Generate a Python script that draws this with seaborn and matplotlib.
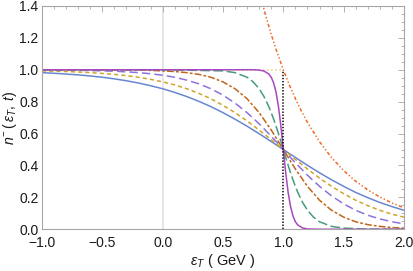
"""
Fermi-Dirac occupation n^-(eps_T, t) for several temperatures
"""

import matplotlib

matplotlib.use("Agg")
import matplotlib.pyplot as plt
import pandas as pd
import seaborn as sns
from matplotlib.ticker import FixedLocator, MultipleLocator


# broad curves, read on a 0.1 GeV grid
x_broad = [-1.0, -0.9, -0.8, -0.7, -0.6, -0.5, -0.4, -0.3, -0.2, -0.1,
           0.0, 0.1, 0.2, 0.3, 0.4, 0.5, 0.6, 0.7, 0.8, 0.9,
           1.0, 1.1, 1.2, 1.3, 1.4, 1.5, 1.6, 1.7, 1.8, 1.9, 2.0]
n_blue = [0.982, 0.978, 0.973, 0.968, 0.961, 0.953, 0.943, 0.931, 0.917, 0.900,
          0.881, 0.858, 0.832, 0.802, 0.769, 0.731, 0.690, 0.646, 0.599, 0.550,
          0.500, 0.450, 0.401, 0.354, 0.310, 0.269, 0.231, 0.198, 0.168, 0.142, 0.119]
n_gold = [0.993, 0.991, 0.989, 0.986, 0.982, 0.977, 0.971, 0.963, 0.953, 0.940,
          0.924, 0.905, 0.881, 0.852, 0.818, 0.777, 0.731, 0.679, 0.622, 0.562,
          0.500, 0.438, 0.378, 0.321, 0.269, 0.223, 0.182, 0.148, 0.119, 0.095, 0.076]
n_purple = [0.999, 0.998, 0.998, 0.997, 0.995, 0.993, 0.991, 0.987, 0.982, 0.975,
            0.966, 0.953, 0.935, 0.912, 0.881, 0.841, 0.791, 0.731, 0.661, 0.583,
            0.500, 0.417, 0.339, 0.269, 0.209, 0.159, 0.119, 0.088, 0.065, 0.047, 0.034]
n_brown = [1.000, 1.000, 1.000, 1.000, 1.000, 0.999, 0.999, 0.998, 0.998, 0.996,
           0.993, 0.989, 0.982, 0.971, 0.953, 0.924, 0.881, 0.818, 0.731, 0.622,
           0.500, 0.378, 0.269, 0.182, 0.119, 0.076, 0.047, 0.029, 0.018, 0.011, 0.007]

# sharp curves, read on a finer grid around the Fermi edge
x_sharp = [-1.0, 0.0, 0.5, 0.6, 0.7, 0.75, 0.8, 0.84, 0.88, 0.9, 0.92, 0.94,
           0.96, 0.98, 1.0, 1.02, 1.04, 1.06, 1.08, 1.1, 1.12, 1.16, 1.2,
           1.25, 1.3, 1.4, 1.5, 1.7, 2.0]
n_green = [1.000, 1.000, 0.993, 0.982, 0.953, 0.924, 0.881, 0.832, 0.769, 0.731, 0.690, 0.646,
           0.599, 0.550, 0.500, 0.450, 0.401, 0.354, 0.310, 0.269, 0.231, 0.168, 0.119,
           0.076, 0.047, 0.018, 0.007, 0.001, 0.000]
n_magenta = [1.000, 1.000, 1.000, 1.000, 1.000, 1.000, 0.998, 0.992, 0.973, 0.953, 0.917, 0.858,
             0.769, 0.646, 0.500, 0.354, 0.231, 0.142, 0.083, 0.047, 0.027, 0.008, 0.002,
             0.001, 0.000, 0.000, 0.000, 0.000, 0.000]

# Boltzmann tail
x_boltz = [0.8, 0.85, 0.9, 0.95, 1.0, 1.05, 1.1, 1.15, 1.2, 1.3, 1.4, 1.5,
           1.6, 1.7, 1.8, 1.9, 2.0]
n_boltz = [1.492, 1.350, 1.221, 1.105, 1.000, 0.905, 0.819, 0.741, 0.670, 0.549, 0.449, 0.368,
           0.301, 0.247, 0.202, 0.165, 0.135]

# zero-temperature step
x_step = [-1.0, 1.0]
n_step = [1.0, 1.0]
x_edge = [1.0, 1.0]
n_edge = [0.0, 1.0]

xtick_vals = [-1.0, -0.5, 0.0, 0.5, 1.0, 1.5, 2.0]
xtick_labels = ["\u22121.0", "\u22120.5", "0.0", "0.5", "1.0", "1.5", "2.0"]
ytick_vals = [0.0, 0.2, 0.4, 0.6, 0.8, 1.0, 1.2, 1.4]
ytick_labels = ["0.0", "0.2", "0.4", "0.6", "0.8", "1.0", "1.2", "1.4"]


sns.set_style("white")
plt.rcParams["font.family"] = ["Liberation Sans", "DejaVu Sans"]
plt.rcParams["mathtext.fontset"] = "custom"
plt.rcParams["mathtext.rm"] = "Liberation Sans"
plt.rcParams["mathtext.it"] = "Liberation Sans:italic"
plt.rcParams["lines.scale_dashes"] = False

fig = plt.figure(figsize=(4.14, 2.71), dpi=100)
ax = fig.add_axes([0.1014, 0.154, 0.8744, 0.824])

ax.axvline(0.0, color="#e4e4e4", lw=1.3, zorder=0)

broad = pd.DataFrame(
    {"x": x_broad, "blue": n_blue, "gold": n_gold, "purple": n_purple, "brown": n_brown}
)
sharp = pd.DataFrame({"x": x_sharp, "green": n_green, "magenta": n_magenta})
boltz = pd.DataFrame({"x": x_boltz, "n": n_boltz})

lw = 1.1
sns.lineplot(data=broad, x="x", y="blue", color="#6788d0", lw=lw, ax=ax)
sns.lineplot(data=broad, x="x", y="gold", color="#cfa52b", lw=lw,
             ls=(0, (3, 2.2)), ax=ax)
sns.lineplot(data=broad, x="x", y="purple", color="#8e72dd", lw=lw,
             ls=(0, (6, 3)), ax=ax)
sns.lineplot(data=broad, x="x", y="brown", color="#c2651a", lw=lw,
             ls=(0, (5, 1.5, 2, 1.5)), ax=ax)
sns.lineplot(data=sharp, x="x", y="green", color="#479b7e", lw=lw,
             ls=(0, (7, 2.5)), ax=ax)
sns.lineplot(data=sharp, x="x", y="magenta", color="#a848c0", lw=lw, ax=ax)
sns.lineplot(data=boltz, x="x", y="n", color="#ee6a2a", lw=lw,
             ls=(0, (2.5, 1.6, 1, 1.6, 1, 1.6)), ax=ax)
ax.plot(x_step, n_step, color="#f7c06a", lw=lw, ls=(0, (1, 2)), zorder=1)
ax.plot(x_edge, n_edge, color="black", lw=lw, ls=(0, (1, 1.2)))

ax.set_xlim(-1.0, 2.0)
ax.set_ylim(0.0, 1.4)

ax.xaxis.set_major_locator(FixedLocator(xtick_vals))
ax.set_xticklabels(xtick_labels)
ax.yaxis.set_major_locator(FixedLocator(ytick_vals))
ax.set_yticklabels(ytick_labels)
ax.xaxis.set_minor_locator(MultipleLocator(0.1))
ax.yaxis.set_minor_locator(MultipleLocator(0.05))

frame = "#a6a6a6"
for s in ax.spines.values():
    s.set_color(frame)
    s.set_linewidth(0.8)
ax.tick_params(which="both", direction="in", top=True, right=True,
               color=frame, width=0.6, labelsize=10, labelcolor="#1a1a1a")
ax.tick_params(which="major", length=4)
ax.tick_params(which="minor", length=2)
ax.tick_params(axis="x", which="major", pad=4.5)
ax.tick_params(axis="y", which="major", pad=2.5)

ax.set_xlabel(r"$\varepsilon_T$ ( GeV )", fontsize=10.5, color="#1a1a1a", labelpad=2)
ax.set_ylabel(r"$n^{-}\,(\,\varepsilon_T,\,t)$", fontsize=10.2, color="#1a1a1a")
ax.yaxis.set_label_coords(-0.064, 0.5)

fig.savefig("out.png", dpi=100)
